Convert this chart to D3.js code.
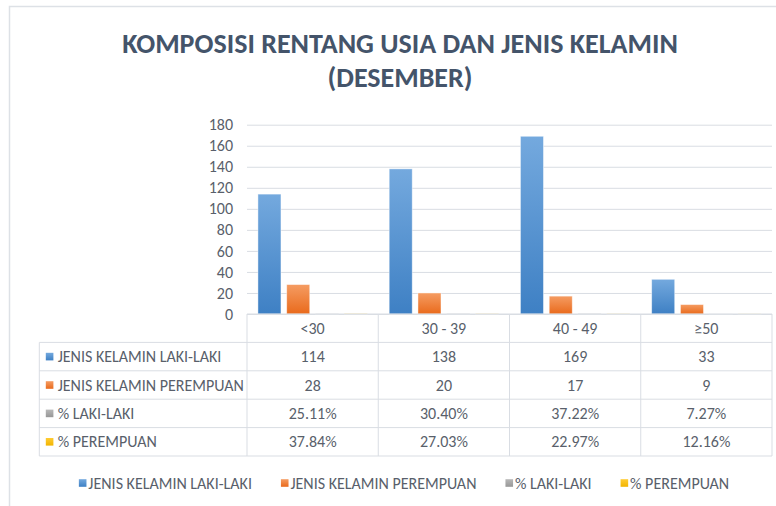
<!DOCTYPE html>
<html>
<head>
<meta charset="utf-8">
<script src="https://cdn.jsdelivr.net/npm/d3@7"></script>
<style>
  body { margin: 0; background: #fff; }
  text { font-family: Carlito, Calibri, "Open Sans", sans-serif; }
</style>
</head>
<body>
<div id="chart"></div>
<script>
// data
const categories = ["<30", "30 - 39", "40 - 49", "≥50"];
const seriesNames = ["JENIS KELAMIN LAKI-LAKI", "JENIS KELAMIN PEREMPUAN", "% LAKI-LAKI", "% PEREMPUAN"];
const lakiLaki = [114, 138, 169, 33];
const perempuan = [28, 20, 17, 9];
const pctLakiLaki = [0.2511, 0.3040, 0.3722, 0.0727];
const pctPerempuan = [0.3784, 0.2703, 0.2297, 0.1216];
const yTicks = [0, 20, 40, 60, 80, 100, 120, 140, 160, 180];

(function komposisi() {
  const width = 776, height = 506;
  const textColor = "#595f6b";
  const lineColor = "#d9dde3";
  const fmtPct = d3.format(".2%");

  const series = [
    {name: seriesNames[0], values: lakiLaki, fmt: d => d, top: "#74a9de", bottom: "#3e80c4"},
    {name: seriesNames[1], values: perempuan, fmt: d => d, top: "#f59c62", bottom: "#e96a1c"},
    {name: seriesNames[2], values: pctLakiLaki, fmt: fmtPct, top: "#b8b8b8", bottom: "#979797"},
    {name: seriesNames[3], values: pctPerempuan, fmt: fmtPct, top: "#ffcc33", bottom: "#f2b400"}
  ];

  const plotLeft = 247, plotRight = 772, plotTop = 124.7, plotBottom = 314;
  const tableLeft = 39.3, rowH = 28.4;

  const svg = d3.select("#chart").append("svg")
      .attr("width", width)
      .attr("height", height)
      .attr("viewBox", [0, 0, width, height]);

  // gradients for the bars and legend keys
  const defs = svg.append("defs");
  series.forEach((s, i) => {
    const g = defs.append("linearGradient")
        .attr("id", "grad" + i)
        .attr("x1", 0).attr("y1", 0).attr("x2", 0).attr("y2", 1);
    g.append("stop").attr("offset", "0%").attr("stop-color", s.top);
    g.append("stop").attr("offset", "100%").attr("stop-color", s.bottom);
  });

  // chart area border (only top and left are inside the picture)
  svg.append("path")
      .attr("d", `M9.5,${height}V6.5H${width}`)
      .attr("fill", "none")
      .attr("stroke", "#dde1e6")
      .attr("stroke-width", 1.5);

  // title
  const title = svg.append("text")
      .attr("x", 400)
      .attr("text-anchor", "middle")
      .attr("font-size", 28)
      .attr("font-weight", "bold")
      .attr("fill", "#44546a");
  title.append("tspan").attr("x", 400).attr("y", 52.5).text("KOMPOSISI RENTANG USIA DAN JENIS KELAMIN");
  title.append("tspan").attr("x", 400).attr("y", 86.5).text("(DESEMBER)");

  // scales
  const x0 = d3.scaleBand()
      .domain(categories)
      .range([plotLeft, plotRight])
      .padding(0);

  const x1 = d3.scaleBand()
      .domain(d3.range(series.length))
      .range([0, x0.bandwidth()])
      .paddingInner(0.2)
      .paddingOuter(0.38);

  const y = d3.scaleLinear()
      .domain([0, 180])
      .range([plotBottom, plotTop]);

  // gridlines + y labels
  const yAxis = d3.axisLeft(y)
      .tickValues(yTicks)
      .tickSize(-(plotRight - plotLeft))
      .tickPadding(14);

  svg.append("g")
      .attr("transform", `translate(${plotLeft},0)`)
      .call(yAxis)
      .call(g => g.select(".domain").remove())
      .call(g => g.selectAll(".tick line").attr("stroke", lineColor).attr("stroke-width", 1))
      .call(g => g.selectAll(".tick text")
          .attr("fill", textColor)
          .attr("font-size", 16)
          .attr("font-family", "Carlito, Calibri, 'Open Sans', sans-serif"));

  // bars
  const groups = svg.append("g")
    .selectAll("g")
    .data(categories)
    .join("g")
      .attr("transform", d => `translate(${x0(d)},0)`);

  groups.selectAll("rect")
    .data((c, ci) => series.map((s, si) => ({si, v: s.values[ci]})))
    .join("rect")
      .attr("x", d => x1(d.si))
      .attr("width", x1.bandwidth())
      .attr("y", d => y(d.v))
      .attr("height", d => y(0) - y(d.v))
      .attr("fill", d => `url(#grad${d.si})`)
      .attr("stroke", "#ffffff")
      .attr("stroke-opacity", 0.55)
      .attr("stroke-width", 0.8);

  // data table
  const table = svg.append("g");
  const tableBottom = plotBottom + rowH * (series.length + 1);

  // horizontal lines
  table.append("line")
      .attr("x1", plotLeft).attr("x2", plotRight)
      .attr("y1", plotBottom).attr("y2", plotBottom)
      .attr("stroke", lineColor);
  d3.range(1, series.length + 2).forEach(r => {
    table.append("line")
        .attr("x1", tableLeft).attr("x2", plotRight)
        .attr("y1", plotBottom + r * rowH).attr("y2", plotBottom + r * rowH)
        .attr("stroke", lineColor);
  });

  // vertical lines
  categories.forEach(c => {
    table.append("line")
        .attr("x1", x0(c)).attr("x2", x0(c))
        .attr("y1", plotBottom).attr("y2", tableBottom)
        .attr("stroke", lineColor);
  });
  table.append("line")
      .attr("x1", plotRight).attr("x2", plotRight)
      .attr("y1", plotBottom).attr("y2", tableBottom)
      .attr("stroke", lineColor);
  table.append("line")
      .attr("x1", tableLeft).attr("x2", tableLeft)
      .attr("y1", plotBottom + rowH).attr("y2", tableBottom)
      .attr("stroke", lineColor);

  // header row
  table.selectAll(".cat")
    .data(categories)
    .join("text")
      .attr("class", "cat")
      .attr("x", d => x0(d) + x0.bandwidth() / 2)
      .attr("y", plotBottom + rowH / 2)
      .attr("dy", "0.35em")
      .attr("text-anchor", "middle")
      .attr("font-size", 16)
      .attr("fill", textColor)
      .text(d => d);

  // series rows
  series.forEach((s, si) => {
    const cy = plotBottom + rowH * (si + 1) + rowH / 2;
    table.append("rect")
        .attr("x", 45.8).attr("y", cy - 3.8)
        .attr("width", 7.6).attr("height", 7.6)
        .attr("fill", `url(#grad${si})`);
    table.append("text")
        .attr("x", 57.7).attr("y", cy)
        .attr("dy", "0.35em")
        .attr("font-size", 16)
        .attr("fill", textColor)
        .text(s.name);
    table.selectAll(null)
      .data(s.values)
      .join("text")
        .attr("x", (d, i) => x0(categories[i]) + x0.bandwidth() / 2)
        .attr("y", cy)
        .attr("dy", "0.35em")
        .attr("text-anchor", "middle")
        .attr("font-size", 16)
        .attr("fill", textColor)
        .text(d => s.fmt(d));
  });

  // bottom legend
  const legend = svg.append("g");
  let lx = 0;
  const items = series.map(s => {
    const g = legend.append("g").attr("transform", `translate(${lx},0)`);
    g.append("rect")
        .attr("x", 0).attr("y", -3.8)
        .attr("width", 7.6).attr("height", 7.6)
        .attr("fill", `url(#grad${series.indexOf(s)})`);
    const t = g.append("text")
        .attr("x", 9.5).attr("dy", "0.35em")
        .attr("font-size", 16)
        .attr("fill", textColor)
        .text(s.name);
    lx += 9.5 + t.node().getComputedTextLength() + 29;
    return g;
  });
  const legendW = lx - 29;
  legend.attr("transform", `translate(${404 - legendW / 2},483)`);
})();
</script>
</body>
</html>
